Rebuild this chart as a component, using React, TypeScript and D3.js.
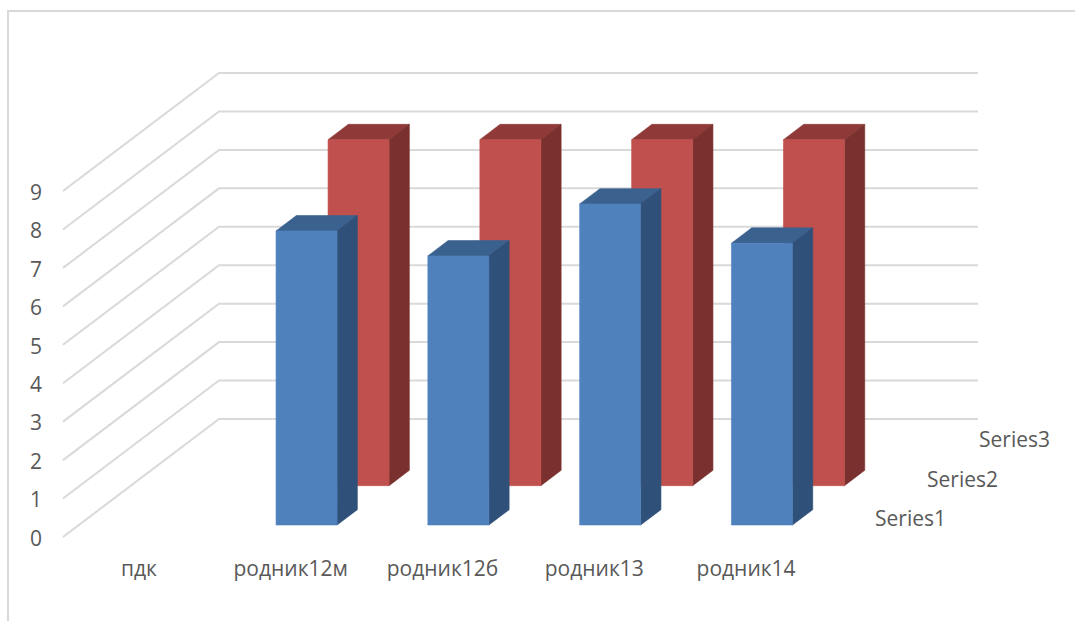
import React from "react";
import * as d3 from "d3";

const categories = ["пдк", "родник12м", "родник12б", "родник13", "родник14"];
const seriesNames = ["Series1", "Series2", "Series3"];
const series1 = [0, 7.65, 7.0, 8.35, 7.33];
const series2 = [0, 9, 9, 9, 9];
const yTicks = [0, 1, 2, 3, 4, 5, 6, 7, 8, 9];

const palette = [
  { front: "#4f81bd", side: "#2f5078", top: "#3b618f" },
  { front: "#c0504d", side: "#7a302e", top: "#8f3a38" },
];

const W = 1075;
const H = 621;
const floorLeft = 63;
const floorRight = 822;
const depthDx = 156;
const depthDy = 118;

const xScale = d3.scaleBand<string>().domain(categories).range([floorLeft, floorRight]).paddingInner(0).paddingOuter(0);
const yScale = d3.scaleLinear().domain([0, 9]).range([537, 191]);
const zScale = d3.scaleLinear().domain([0, seriesNames.length]).range([0, 1]);

// Oblique projection: z (in series slots) shifts a point right and up.
const project = (x: number, value: number, z: number): [number, number] => [
  x + zScale(z) * depthDx,
  yScale(value) - zScale(z) * depthDy,
];

const poly = (pts: [number, number][]) => pts.map((p) => p.join(",")).join(" ");

const barWidthRatio = 0.402;
const barDepth = 0.39;

function Bar({ cat, value, slot }: { cat: string; value: number; slot: number }) {
  const band = xScale.bandwidth();
  const w = band * barWidthRatio;
  const x0 = (xScale(cat) as number) + (band - w) / 2;
  const x1 = x0 + w;
  const z0 = slot + 0.5 - barDepth / 2;
  const z1 = slot + 0.5 + barDepth / 2;
  const c = palette[slot];
  // A hairline stroke in each face's own colour closes the seams between faces.
  return (
    <g strokeWidth={0.6} strokeLinejoin="round">
      <polygon
        points={poly([project(x0, value, z0), project(x0, value, z1), project(x1, value, z1), project(x1, value, z0)])}
        fill={c.top}
        stroke={c.top}
      />
      <polygon
        points={poly([project(x1, 0, z0), project(x1, 0, z1), project(x1, value, z1), project(x1, value, z0)])}
        fill={c.side}
        stroke={c.side}
      />
      <polygon
        points={poly([project(x0, 0, z0), project(x1, 0, z0), project(x1, value, z0), project(x0, value, z0)])}
        fill={c.front}
        stroke={c.front}
      />
    </g>
  );
}

export default function App() {
  const font = "'Open Sans', sans-serif";
  const text = "#595959";
  const grid = "#d9d9d9";
  const wallZ = seriesNames.length;
  return (
    <svg width={W} height={H} style={{ position: "absolute", left: 0, top: 0, display: "block", background: "#fff" }}>
      {/* chart frame, open on the right and at the bottom */}
      <path d={`M8,${H} V11 H${W}`} fill="none" stroke={grid} strokeWidth={2} />

      {/* gridlines run along the side wall, then across the back wall */}
      {yTicks.map((t) => {
        const a = project(floorLeft, t, 0);
        const b = project(floorLeft, t, wallZ);
        const c = project(floorRight, t, wallZ);
        return <polyline key={t} points={poly([a, b, c])} fill="none" stroke={grid} strokeWidth={2} />;
      })}

      {yTicks.map((t) => (
        <text key={t} x={36} y={yScale(t) + 1.2} dy="0.36em" textAnchor="middle" fontFamily={font} fontSize={21} fill={text}>
          {t}
        </text>
      ))}

      {/* back row first so the front row overlaps it */}
      {categories.map((c, i) => (series2[i] > 0 ? <Bar key={c} cat={c} value={series2[i]} slot={1} /> : null))}
      {categories.map((c, i) => (series1[i] > 0 ? <Bar key={c} cat={c} value={series1[i]} slot={0} /> : null))}

      {categories.map((c) => (
        <text
          key={c}
          x={(xScale(c) as number) + xScale.bandwidth() / 2}
          y={576}
          textAnchor="middle"
          fontFamily={font}
          fontSize={21}
          fill={text}
        >
          {c}
        </text>
      ))}

      {seriesNames.map((s, i) => (
        <text key={s} x={875 + i * 52} y={526 - i * 39.3} fontFamily={font} fontSize={21} fill={text}>
          {s}
        </text>
      ))}
    </svg>
  );
}
